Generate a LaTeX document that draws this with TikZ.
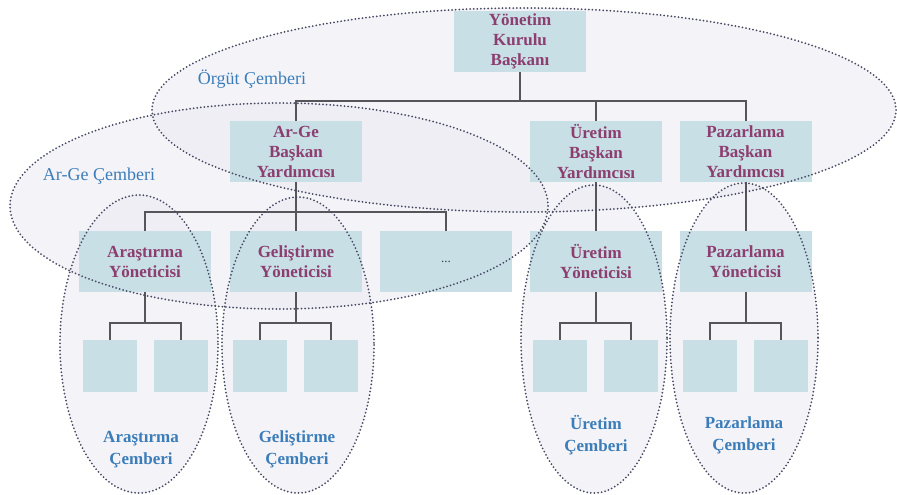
\documentclass[tikz,border=0pt]{standalone}
\usepackage{fontspec}
\setmainfont{Liberation Serif}
\usetikzlibrary{positioning}

\definecolor{boxfill}{RGB}{200,223,229}
\definecolor{plum}{RGB}{140,62,112}
\definecolor{ringblue}{RGB}{60,125,185}
\definecolor{ringline}{RGB}{72,74,100}
\definecolor{ringfill}{RGB}{234,234,242}
\definecolor{connline}{RGB}{85,85,90}

\begin{document}
\begin{tikzpicture}[x=1pt, y=-1pt,
    box/.style = {rectangle, fill=boxfill, minimum width=132pt, minimum height=61pt, inner sep=0pt, align=center, text=plum, font=\bfseries\fontsize{17}{20}\selectfont},
    leaf/.style = {rectangle, fill=boxfill, minimum width=54pt, minimum height=52pt, inner sep=0pt},
    conn/.style = {line width=2pt, color=connline},
    ring/.style = {line width=2pt, color=ringline, dash pattern=on 0pt off 3.6pt, line cap=round},
    ringlabel/.style = {align=center, text=ringblue, font=\fontsize{18}{21}\selectfont},
    ringtitle/.style = {align=center, text=ringblue, font=\bfseries\fontsize{17}{22}\selectfont}]
		\fill[white] (0,0) rectangle (897,495);
		\useasboundingbox (0,0) rectangle (897,495);
		
		\foreach \cx/\cy/\rx/\ry in {524/110/372/102, 279/206/269/103, 139/344/79/149, 298/345/76/148, 594/339/73/154, 744/338/74/155}
			\fill[ringfill, fill opacity=0.5] (\cx,\cy) ellipse [x radius=\rx, y radius=\ry];
		
		\node[box] (ykb) at (520,41.5) {Yönetim\\Kurulu\\Başkanı};
		
		\node[box] (arge) at (296,151.5) {Ar-Ge\\Başkan\\Yardımcısı};
		\node[box] (uretby) at (596,151.5) {Üretim\\Başkan\\Yardımcısı};
		\node[box] (pazby) at (745.5,151.5) {Pazarlama\\Başkan\\Yardımcısı};
		
		\node[box] (arast) at (145,261.5) {Araştırma\\Yöneticisi};
		\node[box] (gelis) at (296,261.5) {Geliştirme\\Yöneticisi};
		\node[box, text=darkgray, font=\fontsize{13}{14}\selectfont] (diger) at (446,261.5) {...};
		\node[box] (uretyon) at (596,261.5) {Üretim\\Yöneticisi};
		\node[box] (pazyon) at (745.5,261.5) {Pazarlama\\Yöneticisi};
		
		\node[leaf] (a1) at (110,366) {};
		\node[leaf] (a2) [right=17pt of a1] {};
		\node[leaf] (g1) at (260,366) {};
		\node[leaf] (g2) [right=17pt of g1] {};
		\node[leaf] (u1) at (560,366) {};
		\node[leaf] (u2) [right=17pt of u1] {};
		\node[leaf] (p1) at (710,366) {};
		\node[leaf] (p2) [right=17pt of p1] {};
		
		\draw[conn] (ykb.south) -- ++(0,29) coordinate (hub);
		\draw[conn] (arge.north) |- (hub) -| (pazby.north);
		\draw[conn] (uretby.north) -- (uretby.north |- hub);
		\draw[conn] (uretby) -- (uretyon);
		\draw[conn] (pazby) -- (pazyon);
		\draw[conn] (arge.south) -- ++(0,30) coordinate (argehub);
		\draw[conn] (arast.north) |- (argehub) -| (diger.north);
		\draw[conn] (argehub) -- (gelis.north);
		\foreach \p/\l/\r in {arast/a1/a2, gelis/g1/g2, uretyon/u1/u2, pazyon/p1/p2}
			\draw[conn] (\p.south) -- ++(0,31) coordinate (\p hub) (\l.north) |- (\p hub) -| (\r.north);
		
		\foreach \cx/\cy/\rx/\ry in {524/110/372/102, 279/206/269/103, 139/344/79/149, 298/345/76/148, 594/339/73/154, 744/338/74/155}
			\draw[ring] (\cx,\cy) ellipse [x radius=\rx, y radius=\ry];
		
		\node[ringlabel] (orgut) at (252,79) {Örgüt Çemberi};
		\node[ringlabel] (argec) at (99,176) {Ar-Ge Çemberi};
		\node[ringtitle] (arastc) at (141,449.5) {Araştırma\\Çemberi};
		\node[ringtitle] (gelisc) at (297,449.5) {Geliştirme\\Çemberi};
		\node[ringtitle] (uretc) at (596,435.5) {Üretim\\Çemberi};
		\node[ringtitle] (pazc) at (744,435.5) {Pazarlama\\Çemberi};
	\end{tikzpicture}
\end{document}
